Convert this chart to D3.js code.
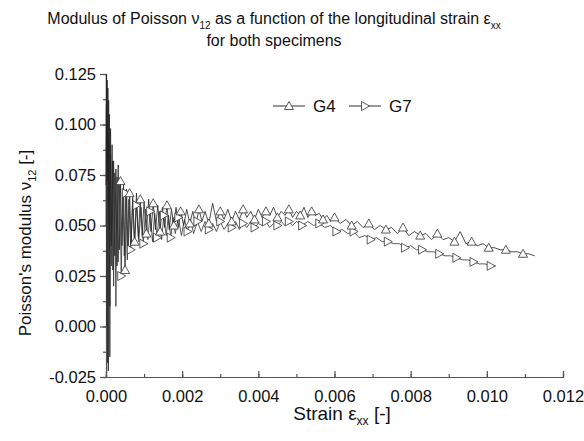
<!DOCTYPE html>
<html>
<head>
<meta charset="utf-8">
<script src="https://cdn.jsdelivr.net/npm/d3@7"></script>
<style>
  body { margin: 0; background: #fff; }
  text { font-family: "Liberation Sans", Arial, sans-serif; fill: #111; }
</style>
</head>
<body>
<div id="chart"></div>
<script>
// strain values in 1e-3 units, Poisson values
var g4Strain = [0.00,0.01,0.02,0.03,0.04,0.05,0.06,0.07,0.08,0.09,0.10,0.12,0.14,0.16,0.18,0.20,0.23,0.26,0.29,0.32,
    0.35,0.38,0.42,0.46,0.50,0.54,0.58,0.62,0.66,0.70,0.75,0.80,0.85,0.90,0.95,1.00,1.06,1.12,1.18,1.24,
    1.30,1.36,1.42,1.48,1.54,1.60,1.66,1.72,1.78,1.84,1.90,1.96,2.04,2.12,2.20,2.28,2.36,2.44,2.52,2.60,
    2.70,2.80,2.90,3.00,3.10,3.20,3.30,3.40,3.50,3.60,3.70,3.80,3.90,4.00,4.10,4.20,4.30,4.40,4.50,4.60,
    4.70,4.80,4.90,5.00,5.10,5.20,5.30,5.40,5.50,5.60,5.70,5.80,5.90,6.00,6.15,6.30,6.45,6.60,6.75,6.90,
    7.05,7.20,7.35,7.50,7.65,7.80,7.95,8.10,8.25,8.40,8.55,8.70,8.85,9.00,9.15,9.30,9.45,9.60,9.75,9.90,
    10.05,10.20,10.35,10.50,10.65,10.80,10.95,11.10,11.25];
var g4Nu = [0.070,0.125,0.080,0.122,0.072,0.118,-0.022,0.112,0.048,0.105,-0.015,0.098,0.040,0.090,0.028,0.082,0.035,0.078,0.030,0.080,
    0.038,0.072,0.040,0.070,0.028,0.068,0.036,0.066,0.040,0.064,0.042,0.066,0.044,0.063,0.045,0.062,0.046,0.063,0.047,0.061,
    0.048,0.060,0.047,0.059,0.049,0.060,0.048,0.058,0.050,0.059,0.049,0.057,0.050,0.058,0.051,0.057,0.050,0.058,0.052,0.057,
    0.051,0.061,0.052,0.057,0.053,0.058,0.052,0.057,0.053,0.058,0.054,0.057,0.053,0.058,0.054,0.057,0.055,0.059,0.054,0.057,
    0.055,0.058,0.054,0.057,0.055,0.059,0.054,0.057,0.055,0.056,0.053,0.055,0.052,0.054,0.051,0.053,0.050,0.052,0.049,0.051,
    0.048,0.050,0.048,0.049,0.046,0.049,0.045,0.047,0.045,0.046,0.043,0.046,0.043,0.044,0.042,0.047,0.041,0.042,0.040,0.041,
    0.039,0.039,0.038,0.038,0.037,0.037,0.036,0.036,0.035];

var g7Strain = [0.00,0.01,0.02,0.03,0.04,0.05,0.06,0.08,0.10,0.12,0.14,0.17,0.20,0.23,0.26,0.29,0.32,0.36,0.40,0.44,
    0.48,0.52,0.56,0.60,0.65,0.70,0.75,0.80,0.86,0.92,0.98,1.04,1.10,1.16,1.22,1.28,1.34,1.40,1.46,1.52,
    1.58,1.64,1.70,1.76,1.82,1.90,1.98,2.06,2.14,2.22,2.30,2.40,2.50,2.60,2.70,2.80,2.90,3.00,3.10,3.20,
    3.30,3.40,3.50,3.60,3.70,3.80,3.90,4.00,4.10,4.20,4.30,4.40,4.50,4.60,4.70,4.80,4.90,5.00,5.15,5.30,
    5.45,5.60,5.75,5.90,6.05,6.20,6.35,6.50,6.65,6.80,6.95,7.10,7.25,7.40,7.55,7.70,7.85,8.00,8.15,8.30,
    8.45,8.60,8.75,8.90,9.05,9.20,9.35,9.50,9.65,9.80,9.95,10.10,10.24];
var g7Nu = [0.050,0.110,0.000,0.100,-0.018,0.095,0.060,0.090,0.010,0.085,0.030,0.082,0.020,0.076,0.010,0.074,0.032,0.070,0.025,0.067,
    0.035,0.066,0.033,0.063,0.038,0.062,0.040,0.060,0.042,0.059,0.041,0.058,0.043,0.057,0.042,0.056,0.044,0.057,0.043,0.055,
    0.045,0.055,0.044,0.054,0.046,0.054,0.045,0.053,0.047,0.053,0.046,0.052,0.047,0.052,0.048,0.051,0.047,0.052,0.048,0.051,
    0.049,0.052,0.048,0.051,0.049,0.052,0.049,0.051,0.050,0.052,0.049,0.051,0.050,0.052,0.050,0.052,0.050,0.052,0.050,0.052,
    0.050,0.051,0.049,0.050,0.047,0.048,0.046,0.047,0.044,0.045,0.043,0.044,0.042,0.042,0.041,0.041,0.039,0.040,0.038,0.038,
    0.037,0.037,0.036,0.035,0.035,0.034,0.033,0.033,0.032,0.031,0.031,0.030,0.030];

var xTicks = [0, 0.002, 0.004, 0.006, 0.008, 0.010, 0.012];
var yTicks = [-0.025, 0, 0.025, 0.05, 0.075, 0.1, 0.125];

var W = 584, H = 441;

var svg = d3.select("#chart").append("svg")
    .attr("width", W)
    .attr("height", H);

var x = d3.scaleLinear().domain([0, 0.012]).range([106, 563]);
var y = d3.scaleLinear().domain([-0.025, 0.125]).range([377, 74]);

// plain hyphen for negatives, like the original
var fmt = d3.formatLocale({ decimal: ".", thousands: ",", grouping: [3], currency: ["", ""], minus: "-" }).format(".3f");

function toPts(sx, sy) {
    return sx.map(function(s, i) { return { x: s / 1000, y: sy[i] }; });
}
var g4 = toPts(g4Strain, g4Nu);
var g7 = toPts(g7Strain, g7Nu);

// minor ticks
var xMinor = d3.range(0, 13).map(function(d) { return d / 1000; });
var yMinor = d3.range(-2, 11).map(function(d) { return d * 0.0125; });

svg.append("g")
    .attr("transform", "translate(0,377)")
    .call(d3.axisBottom(x).tickValues(xMinor).tickSize(-3).tickFormat(""))
    .call(function(g) { g.select(".domain").remove(); });
svg.append("g")
    .attr("transform", "translate(106,0)")
    .call(d3.axisLeft(y).tickValues(yMinor).tickSize(3).tickFormat(""))
    .call(function(g) { g.select(".domain").remove(); });

svg.append("g")
    .attr("transform", "translate(0,377)")
    .call(d3.axisBottom(x).tickValues(xTicks).tickSize(-6).tickPadding(13).tickFormat(fmt));
svg.append("g")
    .attr("transform", "translate(106,0)")
    .call(d3.axisLeft(y).tickValues(yTicks).tickSize(6).tickPadding(4).tickFormat(fmt));

svg.selectAll(".tick line, .domain").attr("stroke", "#555").attr("stroke-width", 1.2);
svg.selectAll(".tick text").style("font-size", "16.5px").attr("fill", "#111");

// data lines
var line = d3.line().x(function(d) { return x(d.x); }).y(function(d) { return y(d.y); });

svg.append("path").datum(g7)
    .attr("d", line).attr("fill", "none").attr("stroke", "#333").attr("stroke-width", 0.8);
svg.append("path").datum(g4)
    .attr("d", line).attr("fill", "none").attr("stroke", "#222").attr("stroke-width", 0.8);

var triUp = "M0,-4.5L4.5,3.5L-4.5,3.5Z";
var triRight = "M-3.5,-4.5L4.5,0L-3.5,4.5Z";

function markerPts(pts) {
    return pts.filter(function(d, i) { return i % 3 === 0 && d.x >= 0.0003; });
}

svg.append("g").selectAll("path")
    .data(markerPts(g7))
    .enter().append("path")
    .attr("d", triRight)
    .attr("transform", function(d) { return "translate(" + x(d.x) + "," + y(d.y) + ")"; })
    .attr("fill", "#fff").attr("stroke", "#333").attr("stroke-width", 0.8);

svg.append("g").selectAll("path")
    .data(markerPts(g4))
    .enter().append("path")
    .attr("d", triUp)
    .attr("transform", function(d) { return "translate(" + x(d.x) + "," + y(d.y) + ")"; })
    .attr("fill", "#fff").attr("stroke", "#333").attr("stroke-width", 0.8);

// legend
var legend = [{ name: "G4", sym: triUp, lx: 273 }, { name: "G7", sym: triRight, lx: 349 }];
legend.forEach(function(l) {
    var g = svg.append("g");
    g.append("line").attr("x1", l.lx).attr("x2", l.lx + 32).attr("y1", 106).attr("y2", 106)
        .attr("stroke", "#333").attr("stroke-width", 1);
    g.append("path").attr("d", l.sym).attr("transform", "translate(" + (l.lx + 16) + ",106)")
        .attr("fill", "#fff").attr("stroke", "#333").attr("stroke-width", 0.8);
    g.append("text").attr("x", l.lx + 40).attr("y", 112).style("font-size", "17px").text(l.name);
});

// titles
var title = svg.append("text").attr("x", 274).attr("y", 24).attr("text-anchor", "middle").style("font-size", "16px");
title.append("tspan").text("Modulus of Poisson \u03bd");
title.append("tspan").attr("dy", 5).style("font-size", "10px").text("12");
title.append("tspan").attr("dy", -5).text(" as a function of the longitudinal strain \u03b5");
title.append("tspan").attr("dy", 5).style("font-size", "10px").text("xx");
svg.append("text").attr("x", 274).attr("y", 46).attr("text-anchor", "middle").style("font-size", "16px")
    .text("for both specimens");

var xt = svg.append("text").attr("x", 342).attr("y", 420).attr("text-anchor", "middle").style("font-size", "19px");
xt.append("tspan").text("Strain \u03b5");
xt.append("tspan").attr("dy", 5).style("font-size", "12px").text("xx");
xt.append("tspan").attr("dy", -5).text(" [-]");

var yt = svg.append("text").attr("transform", "translate(31,243) rotate(-90)").attr("text-anchor", "middle").style("font-size", "17px");
yt.append("tspan").text("Poisson's modulus \u03bd");
yt.append("tspan").attr("dy", 5).style("font-size", "11px").text("12");
yt.append("tspan").attr("dy", -5).text(" [-]");
</script>
</body>
</html>
